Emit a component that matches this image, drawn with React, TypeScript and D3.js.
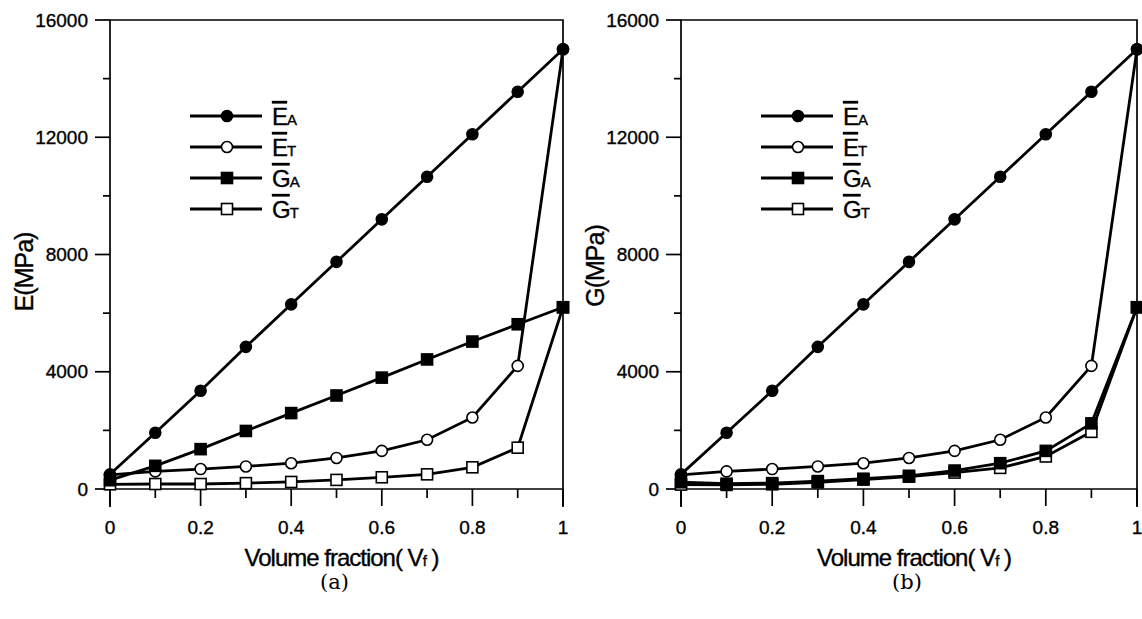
import React, { useEffect, useRef } from 'react';
import * as d3 from 'd3';

// volume fraction steps
const vf = [0, 0.1, 0.2, 0.3, 0.4, 0.5, 0.6, 0.7, 0.8, 0.9, 1.0];

// panel (a)
const eaA = [500, 1920, 3350, 4850, 6300, 7750, 9200, 10650, 12100, 13550, 15000];
const etA = [480, 600, 680, 770, 880, 1060, 1300, 1680, 2440, 4200, 15000];
const gaA = [300, 790, 1360, 1980, 2590, 3190, 3800, 4420, 5030, 5620, 6200];
const gtA = [160, 170, 170, 200, 240, 310, 400, 500, 740, 1410, 6200];

// panel (b)
const eaB = [500, 1920, 3350, 4850, 6300, 7750, 9200, 10650, 12100, 13550, 15000];
const etB = [480, 600, 680, 770, 880, 1060, 1300, 1680, 2440, 4200, 15000];
const gaB = [230, 180, 200, 270, 350, 450, 630, 880, 1300, 2240, 6200];
const gtB = [150, 140, 160, 230, 320, 420, 560, 720, 1110, 1950, 6200];

const yTicks = [0, 4000, 8000, 12000, 16000];
const yMinor = [2000, 6000, 10000, 14000];
const xTicks = [0, 0.2, 0.4, 0.6, 0.8, 1];
const xMinor = [0.1, 0.3, 0.5, 0.7, 0.9];

const legendItems = [
  { main: 'E', sub: 'A', marker: 'circle', filled: true },
  { main: 'E', sub: 'T', marker: 'circle', filled: false },
  { main: 'G', sub: 'A', marker: 'square', filled: true },
  { main: 'G', sub: 'T', marker: 'square', filled: false },
];

const FONT = 'Arial, "Liberation Sans", Helvetica, sans-serif';

function drawMarker(g, kind, filled, x, y) {
  if (kind === 'circle') {
    g.append('circle')
      .attr('cx', x)
      .attr('cy', y)
      .attr('r', 5.5)
      .attr('fill', filled ? '#000' : '#fff')
      .attr('stroke', '#000')
      .attr('stroke-width', 1.6);
  } else {
    g.append('rect')
      .attr('x', x - 5.5)
      .attr('y', y - 5.5)
      .attr('width', 11)
      .attr('height', 11)
      .attr('fill', filled ? '#000' : '#fff')
      .attr('stroke', '#000')
      .attr('stroke-width', 1.6);
  }
}

// scanned look: text a bit heavier than plain regular
function ink(sel) {
  return sel.attr('stroke', '#000').attr('stroke-width', 0.35);
}

function drawPanel(svg, opts) {
  const { x0, x1, yLabel, yLabelAt, caption, series } = opts;
  const yTop = 20;
  const yZero = 489;
  const yBottom = 507;

  const x = d3.scaleLinear().domain([0, 1]).range([x0, x1]);
  const y = d3.scaleLinear().domain([0, 16000]).range([yZero, yTop]);

  const g = svg.append('g');

  // frame
  g.append('path')
    .attr('d', `M${x0},${yBottom}V${yTop}H${x1}V${yBottom}`)
    .attr('fill', 'none')
    .attr('stroke', '#000')
    .attr('stroke-width', 1.7);
  g.append('line')
    .attr('x1', x0)
    .attr('x2', x1)
    .attr('y1', y(0))
    .attr('y2', y(0))
    .attr('stroke', '#000')
    .attr('stroke-width', 1.7);

  // y ticks
  yTicks.forEach((t) => {
    g.append('line')
      .attr('x1', x0 - 15)
      .attr('x2', x0)
      .attr('y1', y(t))
      .attr('y2', y(t))
      .attr('stroke', '#000')
      .attr('stroke-width', 1.7);
    ink(
      g.append('text')
        .attr('x', x0 - 22)
        .attr('y', y(t))
        .attr('dy', '0.35em')
        .attr('text-anchor', 'end')
        .attr('font-family', FONT)
        .attr('font-size', 19)
        .text(t)
    );
  });
  yMinor.forEach((t) => {
    g.append('line')
      .attr('x1', x0 - 7)
      .attr('x2', x0)
      .attr('y1', y(t))
      .attr('y2', y(t))
      .attr('stroke', '#000')
      .attr('stroke-width', 1.7);
  });

  // x ticks
  xTicks.forEach((t) => {
    g.append('line')
      .attr('x1', x(t))
      .attr('x2', x(t))
      .attr('y1', y(0))
      .attr('y2', y(0) + 17)
      .attr('stroke', '#000')
      .attr('stroke-width', 1.7);
    ink(
      g.append('text')
        .attr('x', x(t))
        .attr('y', 534)
        .attr('text-anchor', 'middle')
        .attr('font-family', FONT)
        .attr('font-size', 19)
        .text(d3.format('~g')(t))
    );
  });
  xMinor.forEach((t) => {
    g.append('line')
      .attr('x1', x(t))
      .attr('x2', x(t))
      .attr('y1', y(0))
      .attr('y2', y(0) + 9)
      .attr('stroke', '#000')
      .attr('stroke-width', 1.7);
  });

  // axis titles
  ink(
    g.append('text')
      .attr('transform', `translate(${x0 - 86},${yLabelAt}) rotate(-90)`)
      .attr('dy', '0.35em')
      .attr('text-anchor', 'middle')
      .attr('font-family', FONT)
      .attr('font-size', 25)
      .attr('letter-spacing', -1)
      .text(yLabel)
  );

  const xt = ink(
    g.append('text')
      .attr('x', (x0 + x1) / 2 + 5)
      .attr('y', 566)
      .attr('text-anchor', 'middle')
      .attr('font-family', FONT)
      .attr('font-size', 24)
      .attr('letter-spacing', -1)
  );
  xt.append('tspan').text('Volume fraction( V');
  xt.append('tspan').attr('font-size', 15).text('f');
  xt.append('tspan').text(' )');

  g.append('text')
    .attr('x', (x0 + x1) / 2 - 2)
    .attr('y', 589)
    .attr('text-anchor', 'middle')
    .attr('font-family', '"DejaVu Serif", "Liberation Serif", serif')
    .attr('font-size', 21)
    .text(caption);

  // series
  const line = d3
    .line()
    .x((d, i) => x(vf[i]))
    .y((d) => y(d));

  series.forEach((s) => {
    g.append('path')
      .attr('d', line(s.values))
      .attr('fill', 'none')
      .attr('stroke', '#000')
      .attr('stroke-width', 2.8);
  });
  // open markers first so filled ones sit on top where they overlap
  [...series]
    .sort((a, b) => Number(a.filled) - Number(b.filled))
    .forEach((s) => {
      s.values.forEach((v, i) => drawMarker(g, s.marker, s.filled, x(vf[i]), y(v)));
    });

  // legend
  const lx = x0 + 80;
  legendItems.forEach((item, i) => {
    const ly = 116 + i * 31;
    g.append('line')
      .attr('x1', lx)
      .attr('x2', lx + 72)
      .attr('y1', ly)
      .attr('y2', ly)
      .attr('stroke', '#000')
      .attr('stroke-width', 2.8);
    drawMarker(g, item.marker, item.filled, lx + 37, ly);
    const t = ink(
      g.append('text')
        .attr('x', lx + 82)
        .attr('y', ly + 9)
        .attr('font-family', FONT)
        .attr('font-size', 24)
        .attr('letter-spacing', -1)
    );
    t.append('tspan').style('text-decoration', 'overline').text(item.main);
    t.append('tspan').attr('font-size', 15).text(item.sub);
  });
}

export default function App() {
  const svgRef = useRef(null);

  useEffect(() => {
    const svg = d3.select(svgRef.current);
    svg.selectAll('*').remove();

    const mk = (ea, et, ga, gt) => [
      { values: ea, marker: 'circle', filled: true },
      { values: et, marker: 'circle', filled: false },
      { values: ga, marker: 'square', filled: true },
      { values: gt, marker: 'square', filled: false },
    ];

    drawPanel(svg, { x0: 110, x1: 563, yLabel: 'E(MPa)', yLabelAt: 272, caption: '(a)', series: mk(eaA, etA, gaA, gtA) });
    drawPanel(svg, { x0: 681, x1: 1137, yLabel: 'G(MPa)', yLabelAt: 266, caption: '(b)', series: mk(eaB, etB, gaB, gtB) });
  }, []);

  return (
    <svg
      ref={svgRef}
      width={1142}
      height={619}
      style={{ position: 'absolute', left: 0, top: 0, background: '#fff' }}
    />
  );
}
